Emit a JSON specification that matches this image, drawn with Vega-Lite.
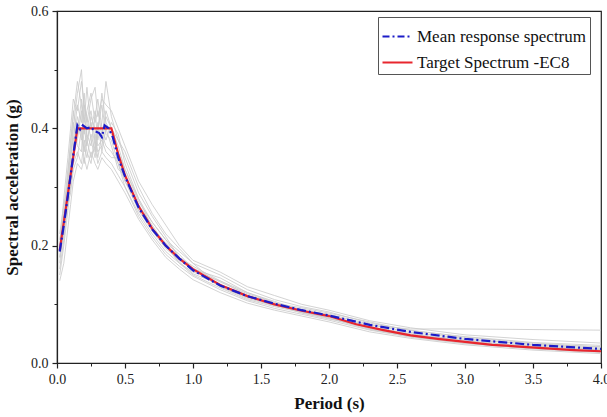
{
  "$schema": "https://vega.github.io/schema/vega-lite/v6.json",
  "width": 544,
  "height": 352,
  "autosize": {"type": "none"},
  "padding": {"left": 57, "top": 11, "right": 6, "bottom": 54},
  "background": "white",
  "config": {
    "view": {"stroke": "#222", "strokeWidth": 1.2},
    "font": "Liberation Serif"
  },
  "datasets": {
    "records": [
      {"T": 0.02, "r1": 0.18, "r2": 0.15, "r3": 0.21, "r4": 0.19, "r5": 0.17, "r6": 0.20, "r7": 0.16, "r8": 0.22, "r9": 0.20, "r10": 0.14, "r11": 0.18, "r12": 0.19},
      {"T": 0.05, "r1": 0.22, "r2": 0.20, "r3": 0.26, "r4": 0.25, "r5": 0.23, "r6": 0.24, "r7": 0.21, "r8": 0.27, "r9": 0.28, "r10": 0.17, "r11": 0.24, "r12": 0.22},
      {"T": 0.08, "r1": 0.30, "r2": 0.26, "r3": 0.33, "r4": 0.28, "r5": 0.31, "r6": 0.27, "r7": 0.29, "r8": 0.30, "r9": 0.35, "r10": 0.23, "r11": 0.32, "r12": 0.27},
      {"T": 0.10, "r1": 0.34, "r2": 0.30, "r3": 0.37, "r4": 0.31, "r5": 0.36, "r6": 0.33, "r7": 0.35, "r8": 0.32, "r9": 0.40, "r10": 0.27, "r11": 0.38, "r12": 0.29},
      {"T": 0.12, "r1": 0.40, "r2": 0.34, "r3": 0.43, "r4": 0.37, "r5": 0.38, "r6": 0.36, "r7": 0.41, "r8": 0.35, "r9": 0.45, "r10": 0.31, "r11": 0.42, "r12": 0.33},
      {"T": 0.15, "r1": 0.46, "r2": 0.36, "r3": 0.39, "r4": 0.42, "r5": 0.44, "r6": 0.38, "r7": 0.37, "r8": 0.41, "r9": 0.43, "r10": 0.34, "r11": 0.48, "r12": 0.35},
      {"T": 0.18, "r1": 0.50, "r2": 0.34, "r3": 0.45, "r4": 0.39, "r5": 0.41, "r6": 0.43, "r7": 0.36, "r8": 0.38, "r9": 0.48, "r10": 0.33, "r11": 0.44, "r12": 0.40},
      {"T": 0.20, "r1": 0.42, "r2": 0.38, "r3": 0.41, "r4": 0.36, "r5": 0.46, "r6": 0.37, "r7": 0.44, "r8": 0.40, "r9": 0.44, "r10": 0.35, "r11": 0.39, "r12": 0.34},
      {"T": 0.22, "r1": 0.38, "r2": 0.36, "r3": 0.47, "r4": 0.40, "r5": 0.39, "r6": 0.35, "r7": 0.42, "r8": 0.37, "r9": 0.41, "r10": 0.33, "r11": 0.43, "r12": 0.38},
      {"T": 0.25, "r1": 0.41, "r2": 0.34, "r3": 0.40, "r4": 0.43, "r5": 0.37, "r6": 0.39, "r7": 0.38, "r8": 0.42, "r9": 0.45, "r10": 0.36, "r11": 0.46, "r12": 0.35},
      {"T": 0.28, "r1": 0.37, "r2": 0.39, "r3": 0.43, "r4": 0.38, "r5": 0.42, "r6": 0.36, "r7": 0.35, "r8": 0.40, "r9": 0.47, "r10": 0.34, "r11": 0.41, "r12": 0.37},
      {"T": 0.30, "r1": 0.40, "r2": 0.36, "r3": 0.38, "r4": 0.35, "r5": 0.45, "r6": 0.41, "r7": 0.39, "r8": 0.37, "r9": 0.42, "r10": 0.33, "r11": 0.43, "r12": 0.34},
      {"T": 0.33, "r1": 0.44, "r2": 0.37, "r3": 0.41, "r4": 0.39, "r5": 0.40, "r6": 0.36, "r7": 0.46, "r8": 0.38, "r9": 0.45, "r10": 0.35, "r11": 0.39, "r12": 0.36},
      {"T": 0.36, "r1": 0.39, "r2": 0.42, "r3": 0.48, "r4": 0.37, "r5": 0.38, "r6": 0.40, "r7": 0.41, "r8": 0.36, "r9": 0.44, "r10": 0.34, "r11": 0.43, "r12": 0.35},
      {"T": 0.40, "r1": 0.38, "r2": 0.40, "r3": 0.42, "r4": 0.36, "r5": 0.41, "r6": 0.37, "r7": 0.39, "r8": 0.35, "r9": 0.43, "r10": 0.33, "r11": 0.40, "r12": 0.34},
      {"T": 0.45, "r1": 0.34, "r2": 0.37, "r3": 0.38, "r4": 0.34, "r5": 0.39, "r6": 0.33, "r7": 0.36, "r8": 0.35, "r9": 0.40, "r10": 0.31, "r11": 0.38, "r12": 0.32},
      {"T": 0.50, "r1": 0.31, "r2": 0.33, "r3": 0.35, "r4": 0.30, "r5": 0.34, "r6": 0.32, "r7": 0.33, "r8": 0.31, "r9": 0.37, "r10": 0.29, "r11": 0.36, "r12": 0.30},
      {"T": 0.60, "r1": 0.27, "r2": 0.28, "r3": 0.29, "r4": 0.255, "r5": 0.28, "r6": 0.26, "r7": 0.275, "r8": 0.26, "r9": 0.31, "r10": 0.245, "r11": 0.30, "r12": 0.25},
      {"T": 0.70, "r1": 0.235, "r2": 0.24, "r3": 0.25, "r4": 0.22, "r5": 0.23, "r6": 0.225, "r7": 0.24, "r8": 0.23, "r9": 0.27, "r10": 0.21, "r11": 0.255, "r12": 0.215},
      {"T": 0.80, "r1": 0.20, "r2": 0.21, "r3": 0.215, "r4": 0.19, "r5": 0.205, "r6": 0.195, "r7": 0.21, "r8": 0.198, "r9": 0.235, "r10": 0.18, "r11": 0.22, "r12": 0.185},
      {"T": 0.90, "r1": 0.17, "r2": 0.19, "r3": 0.18, "r4": 0.17, "r5": 0.185, "r6": 0.175, "r7": 0.18, "r8": 0.172, "r9": 0.20, "r10": 0.16, "r11": 0.195, "r12": 0.165},
      {"T": 1.00, "r1": 0.155, "r2": 0.17, "r3": 0.165, "r4": 0.15, "r5": 0.16, "r6": 0.158, "r7": 0.162, "r8": 0.152, "r9": 0.175, "r10": 0.142, "r11": 0.17, "r12": 0.148},
      {"T": 1.20, "r1": 0.14, "r2": 0.13, "r3": 0.14, "r4": 0.128, "r5": 0.145, "r6": 0.13, "r7": 0.138, "r8": 0.134, "r9": 0.155, "r10": 0.12, "r11": 0.15, "r12": 0.125},
      {"T": 1.40, "r1": 0.115, "r2": 0.11, "r3": 0.12, "r4": 0.108, "r5": 0.12, "r6": 0.112, "r7": 0.118, "r8": 0.115, "r9": 0.13, "r10": 0.102, "r11": 0.125, "r12": 0.106},
      {"T": 1.60, "r1": 0.10, "r2": 0.098, "r3": 0.105, "r4": 0.096, "r5": 0.103, "r6": 0.098, "r7": 0.102, "r8": 0.099, "r9": 0.115, "r10": 0.09, "r11": 0.108, "r12": 0.093},
      {"T": 1.80, "r1": 0.085, "r2": 0.092, "r3": 0.09, "r4": 0.086, "r5": 0.09, "r6": 0.088, "r7": 0.094, "r8": 0.087, "r9": 0.10, "r10": 0.08, "r11": 0.096, "r12": 0.083},
      {"T": 2.00, "r1": 0.075, "r2": 0.082, "r3": 0.083, "r4": 0.077, "r5": 0.08, "r6": 0.076, "r7": 0.085, "r8": 0.079, "r9": 0.09, "r10": 0.07, "r11": 0.087, "r12": 0.073},
      {"T": 2.30, "r1": 0.062, "r2": 0.058, "r3": 0.066, "r4": 0.059, "r5": 0.064, "r6": 0.057, "r7": 0.07, "r8": 0.061, "r9": 0.072, "r10": 0.053, "r11": 0.068, "r12": 0.056},
      {"T": 2.60, "r1": 0.05, "r2": 0.045, "r3": 0.052, "r4": 0.048, "r5": 0.058, "r6": 0.046, "r7": 0.055, "r8": 0.049, "r9": 0.06, "r10": 0.042, "r11": 0.056, "r12": 0.044},
      {"T": 3.00, "r1": 0.038, "r2": 0.034, "r3": 0.042, "r4": 0.04, "r5": 0.058, "r6": 0.036, "r7": 0.045, "r8": 0.037, "r9": 0.048, "r10": 0.031, "r11": 0.044, "r12": 0.033},
      {"T": 3.50, "r1": 0.028, "r2": 0.024, "r3": 0.031, "r4": 0.032, "r5": 0.057, "r6": 0.027, "r7": 0.035, "r8": 0.029, "r9": 0.04, "r10": 0.022, "r11": 0.034, "r12": 0.025},
      {"T": 4.00, "r1": 0.022, "r2": 0.018, "r3": 0.025, "r4": 0.028, "r5": 0.056, "r6": 0.021, "r7": 0.03, "r8": 0.023, "r9": 0.034, "r10": 0.016, "r11": 0.027, "r12": 0.019}
    ],
    "target": [
      {"series": "Target Spectrum -EC8", "T": 0.02, "Sa": 0.192},
      {"series": "Target Spectrum -EC8", "T": 0.15, "Sa": 0.40},
      {"series": "Target Spectrum -EC8", "T": 0.40, "Sa": 0.40},
      {"series": "Target Spectrum -EC8", "T": 0.45, "Sa": 0.356},
      {"series": "Target Spectrum -EC8", "T": 0.50, "Sa": 0.32},
      {"series": "Target Spectrum -EC8", "T": 0.60, "Sa": 0.267},
      {"series": "Target Spectrum -EC8", "T": 0.70, "Sa": 0.229},
      {"series": "Target Spectrum -EC8", "T": 0.80, "Sa": 0.20},
      {"series": "Target Spectrum -EC8", "T": 0.90, "Sa": 0.178},
      {"series": "Target Spectrum -EC8", "T": 1.00, "Sa": 0.16},
      {"series": "Target Spectrum -EC8", "T": 1.20, "Sa": 0.133},
      {"series": "Target Spectrum -EC8", "T": 1.40, "Sa": 0.114},
      {"series": "Target Spectrum -EC8", "T": 1.60, "Sa": 0.10},
      {"series": "Target Spectrum -EC8", "T": 1.80, "Sa": 0.089},
      {"series": "Target Spectrum -EC8", "T": 2.00, "Sa": 0.08},
      {"series": "Target Spectrum -EC8", "T": 2.20, "Sa": 0.066},
      {"series": "Target Spectrum -EC8", "T": 2.40, "Sa": 0.056},
      {"series": "Target Spectrum -EC8", "T": 2.60, "Sa": 0.047},
      {"series": "Target Spectrum -EC8", "T": 2.80, "Sa": 0.041},
      {"series": "Target Spectrum -EC8", "T": 3.00, "Sa": 0.036},
      {"series": "Target Spectrum -EC8", "T": 3.20, "Sa": 0.031},
      {"series": "Target Spectrum -EC8", "T": 3.40, "Sa": 0.028},
      {"series": "Target Spectrum -EC8", "T": 3.60, "Sa": 0.025},
      {"series": "Target Spectrum -EC8", "T": 3.80, "Sa": 0.022},
      {"series": "Target Spectrum -EC8", "T": 4.00, "Sa": 0.02}
    ],
    "mean": [
      {"series": "Mean response spectrum", "T": 0.02, "Sa": 0.19},
      {"series": "Mean response spectrum", "T": 0.05, "Sa": 0.235},
      {"series": "Mean response spectrum", "T": 0.08, "Sa": 0.285},
      {"series": "Mean response spectrum", "T": 0.10, "Sa": 0.32},
      {"series": "Mean response spectrum", "T": 0.12, "Sa": 0.355},
      {"series": "Mean response spectrum", "T": 0.15, "Sa": 0.405},
      {"series": "Mean response spectrum", "T": 0.17, "Sa": 0.398},
      {"series": "Mean response spectrum", "T": 0.19, "Sa": 0.405},
      {"series": "Mean response spectrum", "T": 0.22, "Sa": 0.40},
      {"series": "Mean response spectrum", "T": 0.25, "Sa": 0.402},
      {"series": "Mean response spectrum", "T": 0.28, "Sa": 0.395},
      {"series": "Mean response spectrum", "T": 0.31, "Sa": 0.392},
      {"series": "Mean response spectrum", "T": 0.33, "Sa": 0.385},
      {"series": "Mean response spectrum", "T": 0.35, "Sa": 0.405},
      {"series": "Mean response spectrum", "T": 0.38, "Sa": 0.40},
      {"series": "Mean response spectrum", "T": 0.41, "Sa": 0.385},
      {"series": "Mean response spectrum", "T": 0.45, "Sa": 0.35},
      {"series": "Mean response spectrum", "T": 0.50, "Sa": 0.318},
      {"series": "Mean response spectrum", "T": 0.60, "Sa": 0.265},
      {"series": "Mean response spectrum", "T": 0.70, "Sa": 0.228},
      {"series": "Mean response spectrum", "T": 0.80, "Sa": 0.20},
      {"series": "Mean response spectrum", "T": 0.90, "Sa": 0.178},
      {"series": "Mean response spectrum", "T": 1.00, "Sa": 0.158},
      {"series": "Mean response spectrum", "T": 1.20, "Sa": 0.132},
      {"series": "Mean response spectrum", "T": 1.40, "Sa": 0.114},
      {"series": "Mean response spectrum", "T": 1.60, "Sa": 0.101},
      {"series": "Mean response spectrum", "T": 1.80, "Sa": 0.09},
      {"series": "Mean response spectrum", "T": 2.00, "Sa": 0.081},
      {"series": "Mean response spectrum", "T": 2.30, "Sa": 0.065},
      {"series": "Mean response spectrum", "T": 2.60, "Sa": 0.053},
      {"series": "Mean response spectrum", "T": 3.00, "Sa": 0.041},
      {"series": "Mean response spectrum", "T": 3.50, "Sa": 0.031},
      {"series": "Mean response spectrum", "T": 4.00, "Sa": 0.024}
    ]
  },
  "resolve": {"axis": {"x": "independent", "y": "independent"}},
  "layer": [
    {
      "data": {"name": "records"},
      "transform": [{"fold": ["r1", "r2", "r3", "r4", "r5", "r6", "r7", "r8", "r9", "r10", "r11", "r12"], "as": ["record", "Sa"]}],
      "mark": {"type": "line", "color": "#cbcbcb", "strokeWidth": 1, "opacity": 0.85, "clip": true},
      "encoding": {
        "x": {
          "field": "T", "type": "quantitative",
          "scale": {"domain": [0, 4], "nice": false, "zero": false},
          "axis": {
            "orient": "bottom", "title": "Period (s)", "values": [0, 0.5, 1, 1.5, 2, 2.5, 3, 3.5, 4],
            "format": ".1f", "grid": false, "domainColor": "#222", "domainWidth": 1.2,
            "tickColor": "#222", "tickSize": 5, "tickWidth": 1.2,
            "labelFont": "Liberation Serif", "labelFontSize": 14, "labelColor": "#222", "labelPadding": 4,
            "labelFlush": false,
            "titleFont": "Liberation Serif", "titleFontSize": 17, "titleFontWeight": "bold", "titleColor": "#111", "titlePadding": 9
          }
        },
        "y": {
          "field": "Sa", "type": "quantitative",
          "scale": {"domain": [0, 0.6], "nice": false},
          "axis": {
            "orient": "left", "title": "Spectral acceleration (g)", "values": [0, 0.2, 0.4, 0.6],
            "format": ".1f", "grid": false, "domainColor": "#222", "domainWidth": 1.2,
            "tickColor": "#222", "tickSize": 5, "tickWidth": 1.2,
            "labelFont": "Liberation Serif", "labelFontSize": 14, "labelColor": "#222", "labelPadding": 4,
            "titleFont": "Liberation Serif", "titleFontSize": 17, "titleFontWeight": "bold", "titleColor": "#111", "titlePadding": 9
          }
        },
        "detail": {"field": "record", "type": "nominal"}
      }
    },
    {
      "data": {"name": "target"},
      "mark": {"type": "line", "strokeWidth": 2.2, "clip": true},
      "encoding": {
        "x": {
          "field": "T", "type": "quantitative",
          "axis": {
            "orient": "bottom", "title": null, "values": [0.25, 0.75, 1.25, 1.75, 2.25, 2.75, 3.25, 3.75],
            "labels": false, "domain": false, "grid": false, "tickColor": "#222", "tickSize": 3, "tickWidth": 1
          }
        },
        "y": {
          "field": "Sa", "type": "quantitative",
          "axis": {
            "orient": "left", "title": null, "values": [0.1, 0.3, 0.5],
            "labels": false, "domain": false, "grid": false, "tickColor": "#222", "tickSize": 3, "tickWidth": 1
          }
        },
        "color": {
          "field": "series", "type": "nominal",
          "scale": {"domain": ["Mean response spectrum", "Target Spectrum -EC8"], "range": ["#1c1cc8", "#e8262e"]},
          "legend": {
            "title": null, "orient": "none", "legendX": 321, "legendY": 6,
            "strokeColor": "#555", "fillColor": "white", "padding": 3,
            "symbolType": "stroke", "symbolSize": 900, "symbolStrokeWidth": 2.2,
            "labelFont": "Liberation Serif", "labelFontSize": 17, "labelColor": "#111",
            "rowPadding": 1, "labelOffset": 3, "labelLimit": 300,
            "encode": {"symbols": {"update": {"strokeDash": {"signal": "datum.value === 'Mean response spectrum' ? [7, 3, 2, 3] : [1, 0]"}}}}
          }
        }
      }
    },
    {
      "data": {"name": "mean"},
      "mark": {"type": "line", "strokeWidth": 2.2, "strokeDash": [9, 3, 2, 3], "clip": true},
      "encoding": {
        "x": {"field": "T", "type": "quantitative", "axis": null},
        "y": {"field": "Sa", "type": "quantitative", "axis": null},
        "color": {"field": "series", "type": "nominal"}
      }
    }
  ]
}
